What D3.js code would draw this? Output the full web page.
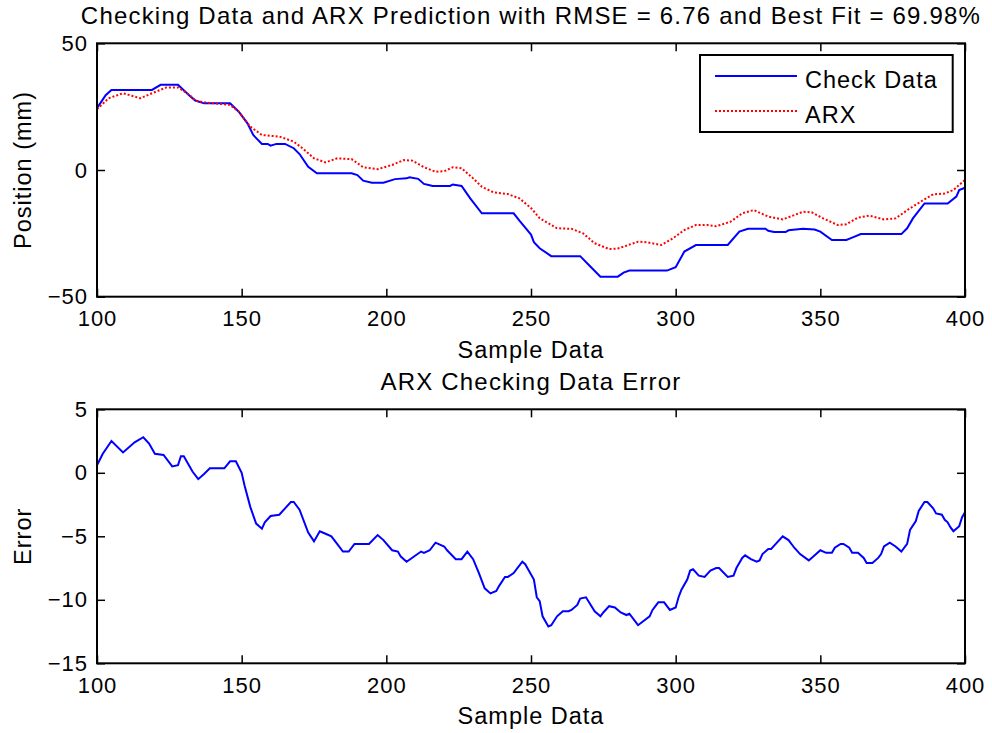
<!DOCTYPE html>
<html>
<head>
<meta charset="utf-8">
<script src="https://cdn.jsdelivr.net/npm/d3@7"></script>
<style>
  body { margin: 0; background: #fff; }
  svg { display: block; font-family: "Liberation Sans", Arial, sans-serif; }
  .tick text { font-size: 22px; letter-spacing: 1px; fill: #000; }
  .tick line { stroke: #000; stroke-width: 1.5px; }
  .lbl { font-size: 23.5px; letter-spacing: 1px; fill: #000; }
  .ttl { font-size: 24px; letter-spacing: 1.2px; fill: #000; }
</style>
</head>
<body>
<div id="chart"></div>
<script>
// Check data (top plot, blue)
var checkSamples = [100,103,105,119,122,128,132,134,137,146,149,152,154,157,159,160,162,165,168,170,173,176,188,190,192,195,199,203,207,208,211,213,215,216,222,223,226,229,233,244,246,250,251,253,257,267,270,274,280,282,284,297,300,303,307,318,322,325,331,332,334,338,339,344,348,350,354,359,361,364,378,380,382,386,394,397,398,400];
var checkValues = [24.4,29.5,31.6,31.6,33.6,33.6,29.3,27.4,26.3,26.3,23,18.4,13.8,10.3,10.3,9.6,10.3,10.3,8.6,6.3,1.3,-1.3,-1.3,-2.0,-4.2,-5.0,-5.0,-3.6,-3.3,-2.9,-3.5,-5.5,-6.0,-6.3,-6.3,-5.7,-6.3,-11.2,-17.1,-17.1,-20,-25.5,-28.5,-30.9,-34,-34,-37.5,-42.1,-42.1,-40.5,-39.7,-39.7,-38.4,-32.2,-29.6,-29.6,-24.3,-23.2,-23.2,-24.0,-24.5,-24.5,-23.8,-23.2,-23.5,-24.3,-27.6,-27.6,-26.7,-25.3,-25.3,-23,-19.1,-13.2,-13.2,-10.5,-7.9,-7.0];

// ARX prediction (top plot, red dotted)
var arxSamples = [100,104,109,112,115,119,124,128,132,134,137,146,149,153,157,163,168,171,175,179,183,188,192,197,202,206,209,213,217,220,223,226,230,233,237,242,246,250,253,259,264,268,272,277,280,287,290,295,299,303,307,311,314,319,323,327,332,337,344,347,351,356,359,363,367,372,376,381,386,389,393,396,400];
var arxValues = [24,28.3,30.3,29.3,28.3,30.3,32.6,32.6,29.6,27.4,26.7,25.7,23,17.1,13.8,13.2,11.2,8.6,4.6,3.0,4.6,4.3,1.1,0.3,2.0,3.9,3.7,1.1,-0.7,-0.5,1.1,0.7,-3.3,-6.6,-8.8,-9.5,-11.2,-15,-19,-23,-23.2,-25,-28.9,-31.2,-31,-28.3,-28.5,-29.6,-27,-23.7,-21.7,-21.7,-22.2,-20.4,-17.1,-15.8,-18.4,-19.5,-16.5,-16.7,-19.1,-21.7,-21.4,-18.8,-18.0,-19.5,-19.1,-15.1,-11.6,-9.6,-9.3,-7.9,-3.9];

// Checking data error (bottom plot)
var errSamples = [100,102,105,109,113,116,118,120,123,126,128,129,130,133,135,137,139,144,146,148,150,151,153,155,157,158,160,163,165,167,168,170,173,175,177,179,181,183,185,187,189,194,197,199,202,204,205,207,212,213,215,217,220,221,224,226,228,230,232,234,236,238,239,241,242,244,247,248,251,252,253,254,256,257,259,261,263,264,266,267,269,272,274,275,277,279,281,283,284,287,291,292,294,296,298,300,301,302,304,305,306,308,310,312,314,315,318,320,321,323,324,326,328,329,330,332,333,335,337,339,341,343,346,347,350,352,354,355,357,358,360,361,363,365,366,368,370,371,372,374,376,378,380,381,383,384,386,387,389,390,392,393,394,395,396,398,399,400];
var errValues = [0.6,1.5,2.5,1.6,2.4,2.8,2.3,1.5,1.4,0.5,0.6,1.3,1.3,0.1,-0.5,-0.1,0.35,0.35,0.9,0.9,0,-1,-2.7,-4.0,-4.4,-3.9,-3.4,-3.3,-2.8,-2.3,-2.3,-2.9,-4.7,-5.4,-4.6,-4.8,-5.0,-5.6,-6.2,-6.2,-5.6,-5.6,-4.9,-5.3,-6.1,-6.2,-6.6,-7.0,-6.2,-6.3,-6.1,-5.5,-5.8,-6.1,-6.8,-6.8,-6.2,-6.8,-7.9,-9.1,-9.5,-9.3,-8.9,-8.2,-8.2,-7.9,-7.0,-7.2,-8.4,-9.8,-10.1,-11.3,-12.1,-12.0,-11.3,-10.9,-10.9,-10.8,-10.4,-9.9,-9.8,-10.9,-11.3,-11.0,-10.5,-10.6,-11.0,-11.2,-11.1,-12.0,-11.3,-10.8,-10.2,-10.2,-10.8,-10.6,-9.8,-9.2,-8.4,-7.7,-7.6,-8.1,-8.2,-7.7,-7.5,-7.5,-8.2,-8.1,-7.5,-6.7,-6.5,-6.8,-7.0,-6.9,-6.4,-6.0,-6.0,-5.5,-5.0,-5.3,-5.9,-6.4,-6.9,-6.7,-6.1,-6.3,-6.3,-5.9,-5.6,-5.6,-5.9,-6.3,-6.3,-6.7,-7.1,-7.1,-6.7,-6.4,-5.8,-5.5,-5.8,-6.2,-5.6,-4.5,-3.8,-3.0,-2.3,-2.3,-2.8,-3.2,-3.3,-3.7,-3.9,-4.3,-4.6,-4.2,-3.5,-3.1];

var xTicks = [100,150,200,250,300,350,400];
var topYTicks = [-50,0,50];
var bottomYTicks = [-15,-10,-5,0,5];
var legendLabels = ["Check Data", "ARX"];

var width = 992, height = 733;
var svg = d3.select('#chart').append('svg')
    .attr('width', width)
    .attr('height', height);

function zipData(xs, ys) {
  return xs.map((x, i) => ({x: x, y: ys[i]}));
}

function drawPanel(cfg) {
  var g = svg.append('g');
  var x = d3.scaleLinear().domain([100, 400]).range([cfg.left, cfg.right]);
  var y = d3.scaleLinear().domain(cfg.yDomain).range([cfg.bottom, cfg.top]);

  g.append('g')
      .attr('transform', 'translate(0,' + cfg.bottom + ')')
      .call(d3.axisBottom(x).tickValues(xTicks).tickSizeInner(-8).tickSizeOuter(0).tickPadding(14));
  g.append('g')
      .attr('transform', 'translate(0,' + cfg.top + ')')
      .call(d3.axisTop(x).tickValues(xTicks).tickSizeInner(-8).tickSizeOuter(0).tickFormat(''));
  g.append('g')
      .attr('transform', 'translate(' + cfg.left + ',0)')
      .call(d3.axisLeft(y).tickValues(cfg.yTicks).tickSizeInner(-8).tickSizeOuter(0).tickPadding(9));
  g.append('g')
      .attr('transform', 'translate(' + cfg.right + ',0)')
      .call(d3.axisRight(y).tickValues(cfg.yTicks).tickSizeInner(-8).tickSizeOuter(0).tickFormat(''));
  g.selectAll('.domain').remove();

  var line = d3.line().x(d => x(d.x)).y(d => y(d.y));
  cfg.series.forEach(function(s) {
    g.append('path')
        .datum(zipData(s.xs, s.ys))
        .attr('d', line)
        .attr('fill', 'none')
        .attr('stroke', s.color)
        .attr('stroke-width', 2)
        .attr('stroke-dasharray', s.dash || null);
  });

  g.append('rect')
      .attr('x', cfg.left).attr('y', cfg.top)
      .attr('width', cfg.right - cfg.left).attr('height', cfg.bottom - cfg.top)
      .attr('fill', 'none').attr('stroke', '#000').attr('stroke-width', 2);

  var cx = (cfg.left + cfg.right) / 2;
  g.append('text').attr('class', 'ttl')
      .attr('x', cx).attr('y', cfg.top - 19)
      .attr('text-anchor', 'middle').text(cfg.title);
  g.append('text').attr('class', 'lbl')
      .attr('x', cx).attr('y', cfg.bottom + 61)
      .attr('text-anchor', 'middle').text('Sample Data');
  g.append('text').attr('class', 'lbl')
      .attr('transform', 'translate(31,' + ((cfg.top + cfg.bottom) / 2) + ') rotate(-90)')
      .attr('text-anchor', 'middle').text(cfg.yLabel);
  return g;
}

drawPanel({
  left: 97, right: 965, top: 43.3, bottom: 296.7,
  yDomain: [-50, 50], yTicks: topYTicks,
  title: 'Checking Data and ARX Prediction with RMSE = 6.76 and Best Fit = 69.98%',
  yLabel: 'Position (mm)',
  series: [
    {xs: checkSamples, ys: checkValues, color: '#0000ff'},
    {xs: arxSamples, ys: arxValues, color: '#ff0000', dash: '2,2'}
  ]
});

drawPanel({
  left: 97, right: 965, top: 409.3, bottom: 663.3,
  yDomain: [-15, 5], yTicks: bottomYTicks,
  title: 'ARX Checking Data Error',
  yLabel: 'Error',
  series: [
    {xs: errSamples, ys: errValues, color: '#0000ff'}
  ]
});

// legend
var legend = svg.append('g');
legend.append('rect')
    .attr('x', 700).attr('y', 55).attr('width', 252.7).attr('height', 77)
    .attr('fill', '#fff').attr('stroke', '#000').attr('stroke-width', 2);
var legendStyles = [{color: '#0000ff', dash: null}, {color: '#ff0000', dash: '2,2'}];
legendLabels.forEach(function(name, i) {
  var ly = 76 + i * 35;
  legend.append('line')
      .attr('x1', 715).attr('x2', 797).attr('y1', ly).attr('y2', ly)
      .attr('stroke', legendStyles[i].color).attr('stroke-width', 2)
      .attr('stroke-dasharray', legendStyles[i].dash);
  legend.append('text').attr('class', 'lbl')
      .attr('x', 805).attr('y', ly + 11.5)
      .text(name);
});
</script>
</body>
</html>
